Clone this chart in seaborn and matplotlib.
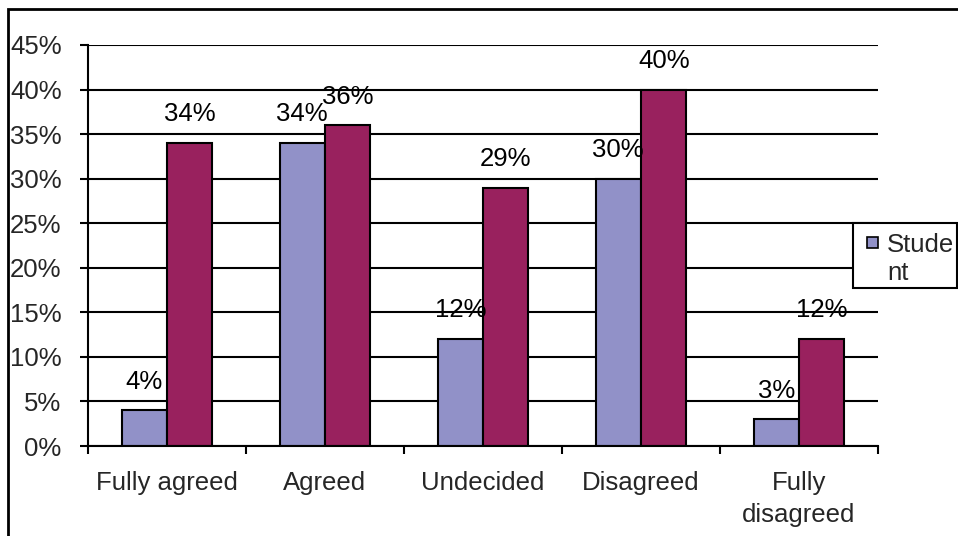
import matplotlib
matplotlib.use("Agg")
import matplotlib.pyplot as plt
import seaborn as sns
import pandas as pd
from matplotlib.patches import Rectangle

categories = ["Fully agreed", "Agreed", "Undecided", "Disagreed", "Fully\ndisagreed"]
student = [4, 34, 12, 30, 3]
teacher = [34, 36, 29, 40, 12]
series_names = ["Student", "Teacher"]
legend_label = "Stude\nnt"
y_ticks = [0, 5, 10, 15, 20, 25, 30, 35, 40, 45]

df = pd.DataFrame({
    "category": categories * 2,
    "series": [series_names[0]] * len(categories) + [series_names[1]] * len(categories),
    "value": student + teacher,
})

sns.set_theme(style="white")
plt.rcParams["font.family"] = ["Liberation Sans", "DejaVu Sans"]
FS = 18.5

W, H = 958, 536
fig = plt.figure(figsize=(W / 100, H / 100), dpi=100)
ax = fig.add_axes([88 / W, 1 - 446 / H, (878 - 88) / W, (446 - 45) / H])

colors = ["#9191c8", "#99215e"]
sns.barplot(data=df, x="category", y="value", hue="series", order=categories,
            hue_order=series_names, palette=colors, width=0.575, dodge=True,
            edgecolor="black", linewidth=1.5, saturation=1, legend=False, ax=ax)

for cont in ax.containers:
    ax.bar_label(cont, labels=[f"{v:.0f}%" for v in cont.datavalues],
                 padding=12, fontsize=FS, color="black")

ax.set_ylim(0, 45)
ax.set_xlim(-0.5, len(categories) - 0.5)
ax.set_yticks(y_ticks)
ax.set_yticklabels([f"{t}%" for t in y_ticks], fontsize=FS)
ax.yaxis.grid(True, color="black", linewidth=1.5)
ax.set_axisbelow(True)

ax.set_xticks(range(len(categories)))
ax.set_xticklabels(categories, fontsize=FS, linespacing=1.4)
ax.set_xticks([i - 0.5 for i in range(len(categories) + 1)], minor=True)
ax.tick_params(axis="x", which="major", length=0, pad=18)
ax.tick_params(axis="x", which="minor", length=6, width=1.5, color="black", direction="out")
ax.tick_params(axis="y", length=6, width=1.5, color="black", direction="out", pad=13)
ax.xaxis.set_ticks_position("bottom")
ax.yaxis.set_ticks_position("left")
ax.set_xlabel("")
ax.set_ylabel("")

for side in ["top", "right"]:
    ax.spines[side].set_visible(False)
for side in ["left", "bottom"]:
    ax.spines[side].set_color("black")
    ax.spines[side].set_linewidth(1.5)

def px(x, y):
    """Figure pixel position (from top-left) to figure fraction."""
    return x / W, 1 - y / H

# legend box at the right edge, partly cut off by the figure
lx, ly = px(853, 288)
fig.patches.append(Rectangle((lx, ly), (957 - 853) / W, (288 - 223) / H,
                             transform=fig.transFigure, facecolor="white",
                             edgecolor="black", linewidth=1.5, zorder=5))
sx, sy = px(867, 248)
fig.patches.append(Rectangle((sx, sy), 11 / W, 11 / H, transform=fig.transFigure,
                             facecolor=colors[0], edgecolor="black", linewidth=1.2, zorder=6))
tx, ty = px(887, 259)
fig.text(tx, ty, legend_label, fontsize=FS, ha="left", va="center",
         linespacing=1.2, zorder=7)

# outer chart frame
fig.patches.append(Rectangle((8 / W, -0.1), 1.2, 1 - 9 / H + 0.1, transform=fig.transFigure,
                             fill=False, edgecolor="black", linewidth=2, zorder=0))

fig.savefig("out.png", dpi=100)
